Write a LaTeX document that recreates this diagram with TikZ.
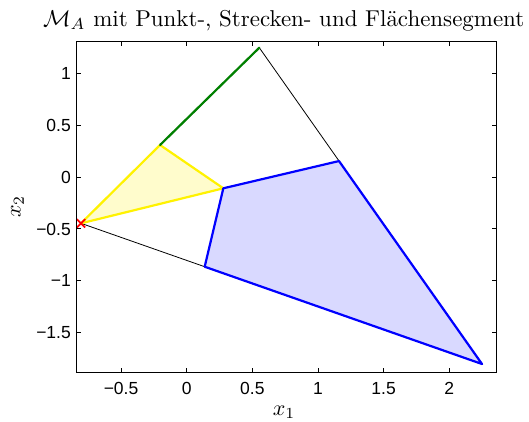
\documentclass[tikz,border=0pt]{standalone}
\usepackage{fontspec}
\newfontfamily\ticksfont{Liberation Sans}
\begin{document}
\begin{tikzpicture}[x=131.3pt,y=103.6pt,
  hull/.style={black,line width=0.8pt},
  seg/.style={line width=2.2pt,line join=round},
  tickmark/.style={black,line width=0.7pt},
  axbox/.style={black,line width=1pt},
  ticklab/.style={inner sep=0pt,font=\ticksfont\fontsize{17.5}{20}\selectfont},
  axlab/.style={inner sep=0pt}]
\useasboundingbox (-1.4219,-2.3552) rectangle (2.6070,1.7085);
\fill[white] (-1.4219,-2.3552) rectangle (2.6070,1.7085);
% data points
\coordinate (P) at (-0.805,-0.447);
\coordinate (Q) at (-0.203,0.309);
\coordinate (A) at (0.553,1.248);
\coordinate (B) at (1.160,0.154);
\coordinate (C) at (2.249,-1.805);
\coordinate (D) at (0.137,-0.866);
\coordinate (E) at (0.279,-0.109);
% ticks
\foreach \t in {-0.5,0,0.5,1,1.5,2}{
  \draw[tickmark] (\t,-1.889) -- ++(0pt,4.5pt);
  \draw[tickmark] (\t,1.306) -- ++(0pt,-4.5pt);
}
\foreach \t in {-1.5,-1,-0.5,0,0.5,1}{
  \draw[tickmark] (-0.843,\t) -- ++(4.5pt,0pt);
  \draw[tickmark] (2.360,\t) -- ++(-4.5pt,0pt);
}
% hull
\draw[hull] (P) -- (A) -- (C) -- cycle;
% fills
\fill[yellow!20] (P) -- (Q) -- (E) -- cycle;
\fill[blue!15] (E) -- (B) -- (C) -- (D) -- cycle;
\draw[seg,yellow] (P) -- (Q) -- (E) -- cycle;
\draw[seg,blue] (E) -- (B) -- (C) -- (D) -- cycle;
\draw[seg,green!50!black,line cap=round] (Q) -- (A);
% red marker
\draw[red,line width=1.7pt] (P) ++(-4.2pt,-4.2pt) -- ++(8.4pt,8.4pt) (P) ++(-4.2pt,4.2pt) -- ++(8.4pt,-8.4pt);
% axes box
\draw[axbox] (-0.843,-1.889) rectangle (2.360,1.306);
% tick labels
\foreach \t/\l in {-0.5/−0.5,0/0,0.5/0.5,1/1,1.5/1.5,2/2}{
  \node[ticklab,anchor=base] (xl\t) at (\t,-2.0946) {\l};
}
\foreach \t/\l in {-1.5/−1.5,-1/−1,-0.5/−0.5,0/0,0.5/0.5,1/1}{
  \node[ticklab,anchor=base east] (yl\t) at (-0.881,\t) [yshift=-6.2pt] {\l};
}
% axis labels
\node[axlab] (xlab) at (0.741,-2.268) {\scalebox{2.2}{$x_1$}};
\node[axlab,rotate=90] (ylab) at (-1.2887,-0.2847) {\scalebox{2.2}{$x_2$}};
% title
\node[inner sep=0pt,anchor=base] (title) at (0.7388,1.4575)
  {\resizebox{481pt}{!}{$\mathcal{M}_A$ mit Punkt-, Strecken- und Flächensegment}};
\end{tikzpicture}
\end{document}
